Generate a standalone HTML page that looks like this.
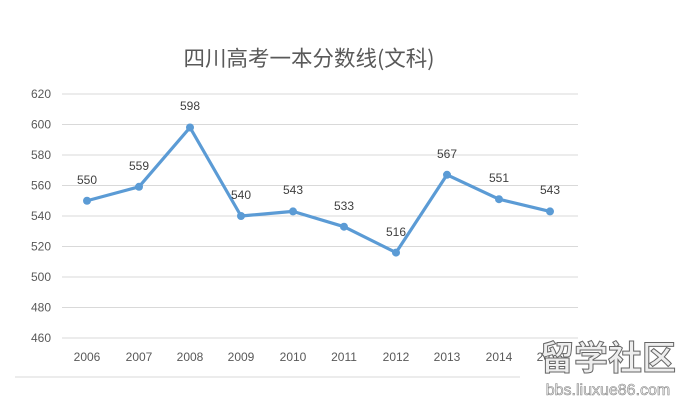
<!DOCTYPE html>
<html><head><meta charset="utf-8"><style>body{margin:0;background:#fff}svg{display:block}</style></head><body>
<svg width="684" height="400" xmlns="http://www.w3.org/2000/svg" font-family="Liberation Sans, Noto Sans CJK SC, sans-serif">
<rect width="684" height="400" fill="#fff"/>
<text x="309" y="66" font-size="21.5" fill="#595959" text-anchor="middle" font-family="Noto Sans CJK SC, sans-serif">四川高考一本分数线(文科)</text>
<g stroke="#d9d9d9" stroke-width="1">
<line x1="62" x2="578" y1="94" y2="94"/><line x1="62" x2="578" y1="124.5" y2="124.5"/><line x1="62" x2="578" y1="155" y2="155"/><line x1="62" x2="578" y1="185.5" y2="185.5"/><line x1="62" x2="578" y1="216" y2="216"/><line x1="62" x2="578" y1="246.5" y2="246.5"/><line x1="62" x2="578" y1="277" y2="277"/><line x1="62" x2="578" y1="307.5" y2="307.5"/><line x1="62" x2="578" y1="338" y2="338"/>
<line x1="15" x2="520" y1="377" y2="377"/>
</g>
<g font-size="12" fill="#595959" text-anchor="end">
<text x="51" y="98">620</text><text x="51" y="128.5">600</text><text x="51" y="159">580</text><text x="51" y="189.5">560</text><text x="51" y="220">540</text><text x="51" y="250.5">520</text><text x="51" y="281">500</text><text x="51" y="311.5">480</text><text x="51" y="342">460</text>
</g>
<g font-size="12" fill="#595959" text-anchor="middle">
<text x="87" y="361">2006</text><text x="139" y="361">2007</text><text x="190" y="361">2008</text><text x="241" y="361">2009</text><text x="293" y="361">2010</text><text x="344" y="361">2011</text><text x="396" y="361">2012</text><text x="447" y="361">2013</text><text x="499" y="361">2014</text><text x="550" y="361">2015</text>
</g>
<polyline fill="none" stroke="#5b9bd5" stroke-width="3.2" stroke-linejoin="round" points="87,200.75 139,186.8 190,127.5 241,216 293,211.4 344,226.7 396,252.6 447,174.8 499,199.2 550,211.4"/>
<g fill="#5b9bd5">
<circle cx="87" cy="200.75" r="4"/><circle cx="139" cy="186.8" r="4"/><circle cx="190" cy="127.5" r="4"/><circle cx="241" cy="216" r="4"/><circle cx="293" cy="211.4" r="4"/><circle cx="344" cy="226.7" r="4"/><circle cx="396" cy="252.6" r="4"/><circle cx="447" cy="174.8" r="4"/><circle cx="499" cy="199.2" r="4"/><circle cx="550" cy="211.4" r="4"/>
</g>
<g font-size="12" fill="#404040" text-anchor="middle">
<text x="87" y="184">550</text><text x="139" y="170">559</text><text x="190" y="110">598</text><text x="241" y="199">540</text><text x="293" y="194">543</text><text x="344" y="210">533</text><text x="396" y="236">516</text><text x="447" y="158">567</text><text x="499" y="182">551</text><text x="550" y="194">543</text>
</g>
<text x="608" y="370" font-size="34" font-weight="bold" fill="#eeeeee" stroke="#666" stroke-width="1" text-anchor="middle" font-family="Noto Sans CJK SC, sans-serif">留学社区</text>
<text x="608" y="395" font-size="16" fill="#eee" stroke="#888" stroke-width="0.6" text-anchor="middle">bbs.liuxue86.com</text>
</svg>
</body></html>
